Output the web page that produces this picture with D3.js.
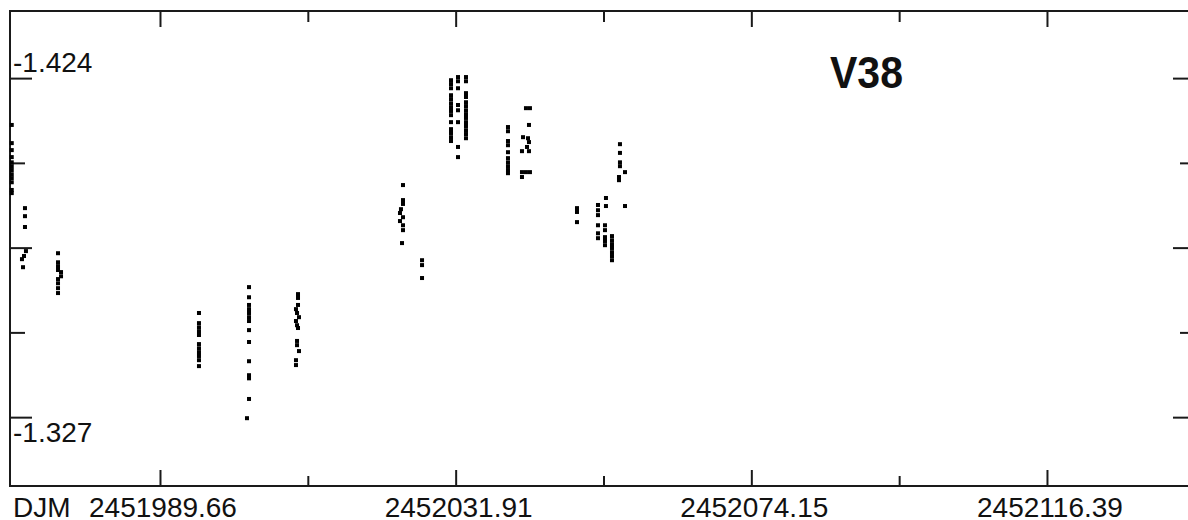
<!DOCTYPE html>
<html>
<head>
<meta charset="utf-8">
<script src="https://cdn.jsdelivr.net/npm/d3@7"></script>
<style>
  html, body { margin: 0; padding: 0; background: #fff; }
  svg { display: block; }
  text { font-family: "Liberation Sans", Arial, sans-serif; fill: #111; }
</style>
</head>
<body>
<svg id="chart" width="1188" height="520"></svg>
<script>
// Light curve of variable V38: [DJM, differential magnitude] per night
const night01 = [[2451968.48,-1.4106],[2451968.48,-1.4054],[2451968.48,-1.4034],[2451968.48,-1.4014],[2451968.48,-1.3999],[2451968.48,-1.3988],[2451968.48,-1.3977],[2451968.48,-1.3965],[2451968.48,-1.3954],[2451968.48,-1.3942],[2451968.48,-1.3920],[2451968.48,-1.3911]];
const night02 = [[2451970.37,-1.3868],[2451970.37,-1.3845],[2451970.37,-1.3814],[2451970.51,-1.3745],[2451970.23,-1.3731],[2451969.94,-1.3722],[2451970.09,-1.3699]];
const night03 = [[2451975.09,-1.3739],[2451975.09,-1.3713],[2451975.09,-1.3702],[2451975.09,-1.3691],[2451975.52,-1.3685],[2451975.52,-1.3673],[2451975.09,-1.3665],[2451975.09,-1.3653],[2451975.09,-1.3639],[2451975.09,-1.3625]];
const night04 = [[2451995.23,-1.3568],[2451995.23,-1.3539],[2451995.23,-1.3527],[2451995.23,-1.3516],[2451995.23,-1.3505],[2451995.23,-1.3479],[2451995.23,-1.3467],[2451995.23,-1.3456],[2451995.23,-1.3445],[2451995.23,-1.3433],[2451995.23,-1.3416]];
const night05 = [[2452002.38,-1.3642],[2452002.38,-1.3613],[2452002.38,-1.3591],[2452002.38,-1.3579],[2452002.38,-1.3568],[2452002.38,-1.3556],[2452002.38,-1.3545],[2452002.38,-1.3519],[2452002.38,-1.3485],[2452002.38,-1.3430],[2452002.38,-1.3390],[2452002.38,-1.3381],[2452002.38,-1.3322],[2452002.09,-1.3267]];
const night06 = [[2452009.38,-1.3622],[2452009.38,-1.3611],[2452009.38,-1.3591],[2452009.09,-1.3579],[2452009.24,-1.3568],[2452009.52,-1.3556],[2452009.09,-1.3545],[2452009.24,-1.3533],[2452009.38,-1.3525],[2452009.24,-1.3488],[2452009.24,-1.3476],[2452009.52,-1.3459],[2452009.09,-1.3433],[2452009.09,-1.3419]];
const night07 = [[2452024.38,-1.3934],[2452024.38,-1.3891],[2452024.38,-1.3880],[2452024.09,-1.3865],[2452023.95,-1.3854],[2452024.38,-1.3842],[2452023.95,-1.3831],[2452024.38,-1.3819],[2452024.38,-1.3805],[2452024.24,-1.3768]];
const night08 = [[2452027.10,-1.3719],[2452027.10,-1.3705],[2452027.10,-1.3668]];
const night09 = [[2452031.24,-1.4234],[2452031.24,-1.4223],[2452031.24,-1.4211],[2452031.24,-1.4191],[2452031.24,-1.4180],[2452031.24,-1.4168],[2452031.24,-1.4157],[2452031.24,-1.4146],[2452031.24,-1.4134],[2452031.24,-1.4114],[2452031.24,-1.4094],[2452031.24,-1.4083],[2452031.24,-1.4071],[2452031.24,-1.4060]];
const night10 = [[2452032.24,-1.4243],[2452032.24,-1.4231],[2452032.24,-1.4211],[2452032.24,-1.4163],[2452032.24,-1.4148],[2452032.24,-1.4114],[2452032.24,-1.4043],[2452032.24,-1.4014]];
const night11 = [[2452033.38,-1.4243],[2452033.38,-1.4231],[2452033.38,-1.4197],[2452033.38,-1.4186],[2452033.38,-1.4171],[2452033.38,-1.4160],[2452033.38,-1.4148],[2452033.38,-1.4137],[2452033.38,-1.4126],[2452033.38,-1.4114],[2452033.38,-1.4103],[2452033.38,-1.4091],[2452033.38,-1.4080],[2452033.38,-1.4068]];
const night12 = [[2452039.38,-1.4100],[2452039.38,-1.4088],[2452039.38,-1.4060],[2452039.38,-1.4048],[2452039.38,-1.4028],[2452039.38,-1.4011],[2452039.38,-1.3999],[2452039.38,-1.3988],[2452039.38,-1.3977],[2452039.38,-1.3968]];
const night13 = [[2452041.95,-1.4154],[2452042.52,-1.4154],[2452042.38,-1.4106],[2452041.53,-1.4071],[2452042.24,-1.4068],[2452042.38,-1.4057],[2452042.10,-1.4043],[2452041.38,-1.4031],[2452042.38,-1.4031],[2452041.38,-1.3971],[2452041.95,-1.3971],[2452042.52,-1.3971],[2452041.38,-1.3957]];
const night14 = [[2452049.24,-1.3868],[2452049.24,-1.3857],[2452049.24,-1.3828]];
const night15 = [[2452052.24,-1.3877],[2452052.24,-1.3862],[2452052.24,-1.3848],[2452052.24,-1.3819],[2452052.24,-1.3796],[2452052.24,-1.3782]];
const night16 = [[2452053.38,-1.3897],[2452053.38,-1.3874],[2452053.24,-1.3819],[2452053.24,-1.3805],[2452053.24,-1.3785],[2452053.24,-1.3774],[2452053.24,-1.3762]];
const night17 = [[2452054.24,-1.3788],[2452054.24,-1.3776],[2452054.24,-1.3765],[2452054.24,-1.3754],[2452054.24,-1.3742],[2452054.24,-1.3731],[2452054.24,-1.3719]];
const night18 = [[2452055.38,-1.4051],[2452055.38,-1.4026],[2452055.38,-1.3999],[2452055.38,-1.3988],[2452056.10,-1.3971],[2452055.24,-1.3957],[2452055.24,-1.3948],[2452056.10,-1.3874]];

const nights = [night01, night02, night03, night04, night05, night06, night07, night08, night09,
                night10, night11, night12, night13, night14, night15, night16, night17, night18];

// Axis extents and ticks
const jdDomain = [2451968.23, 2452137.54];
const magDomain = [-1.4432, -1.3073];
const xMajorTicks = [2451989.66, 2452031.905, 2452074.15, 2452116.39];
const xMajorLabels = ["2451989.66", "2452031.91", "2452074.15", "2452116.39"];
const xMinorTicks = [2452010.7825, 2452053.0275, 2452095.27];
const yMajorTicks = [-1.424, -1.3755, -1.327];
const yMinorTicks = [-1.39975, -1.35125];
const yLabelTop = "-1.424";
const yLabelBottom = "-1.327";
const xAxisName = "DJM";
const starName = "V38";

const svg = d3.select("#chart");
const plot = { left: 10, top: 11, right: 1195, bottom: 486 };
const ink = "#1a1a1a";

const x = d3.scaleLinear().domain(jdDomain).range([plot.left, plot.right]);
const y = d3.scaleLinear().domain(magDomain).range([plot.top, plot.bottom]);

// Inward ticks on all four sides
function styleAxis(g) {
  g.select(".domain").remove();
  g.selectAll(".tick line").attr("stroke", ink).attr("stroke-width", 2);
}

svg.append("g").attr("transform", `translate(0,${plot.bottom})`)
  .call(d3.axisBottom(x).tickValues(xMajorTicks).tickSize(-16).tickSizeOuter(0).tickFormat(""))
  .call(styleAxis);
svg.append("g").attr("transform", `translate(0,${plot.bottom})`)
  .call(d3.axisBottom(x).tickValues(xMinorTicks).tickSize(-10).tickSizeOuter(0).tickFormat(""))
  .call(styleAxis);
svg.append("g").attr("transform", `translate(0,${plot.top})`)
  .call(d3.axisTop(x).tickValues(xMajorTicks).tickSize(-16).tickSizeOuter(0).tickFormat(""))
  .call(styleAxis);
svg.append("g").attr("transform", `translate(0,${plot.top})`)
  .call(d3.axisTop(x).tickValues(xMinorTicks).tickSize(-11).tickSizeOuter(0).tickFormat(""))
  .call(styleAxis);
svg.append("g").attr("transform", `translate(${plot.left},0)`)
  .call(d3.axisLeft(y).tickValues(yMajorTicks).tickSize(-22).tickSizeOuter(0).tickFormat(""))
  .call(styleAxis);
svg.append("g").attr("transform", `translate(${plot.left},0)`)
  .call(d3.axisLeft(y).tickValues(yMinorTicks).tickSize(-15).tickSizeOuter(0).tickFormat(""))
  .call(styleAxis);
svg.append("g").attr("transform", `translate(${plot.right},0)`)
  .call(d3.axisRight(y).tickValues(yMajorTicks).tickSize(-22).tickSizeOuter(0).tickFormat(""))
  .call(styleAxis);
svg.append("g").attr("transform", `translate(${plot.right},0)`)
  .call(d3.axisRight(y).tickValues(yMinorTicks).tickSize(-15).tickSizeOuter(0).tickFormat(""))
  .call(styleAxis);

// Plot frame
svg.append("rect")
  .attr("x", plot.left).attr("y", plot.top)
  .attr("width", plot.right - plot.left).attr("height", plot.bottom - plot.top)
  .attr("fill", "none").attr("stroke", ink).attr("stroke-width", 2);

// Observations as small square dots
const pts = nights.flat();
svg.append("g").selectAll("rect").data(pts).join("rect")
  .attr("x", d => x(d[0]) - 2)
  .attr("y", d => y(d[1]) - 2)
  .attr("width", 4).attr("height", 4)
  .attr("fill", "#000");

// X tick labels
svg.append("g").selectAll("text").data(xMajorTicks).join("text")
  .attr("x", d => x(d) + 3)
  .attr("y", 517)
  .attr("text-anchor", "middle")
  .style("font-size", "28px")
  .text((d, i) => xMajorLabels[i]);

svg.append("text")
  .attr("x", 13).attr("y", 517)
  .style("font-size", "28px")
  .text(xAxisName);

// Y labels: top one sits above its tick, bottom one below
svg.append("text")
  .attr("x", 13).attr("y", y(yMajorTicks[0]) - 6)
  .style("font-size", "28px")
  .text(yLabelTop);
svg.append("text")
  .attr("x", 13).attr("y", y(yMajorTicks[2]) + 25)
  .style("font-size", "28px")
  .text(yLabelBottom);

// Star identifier
svg.append("text")
  .attr("x", 830).attr("y", 88)
  .attr("textLength", 73).attr("lengthAdjust", "spacingAndGlyphs")
  .style("font-size", "45px").style("font-weight", "bold")
  .text(starName);
</script>
</body>
</html>
